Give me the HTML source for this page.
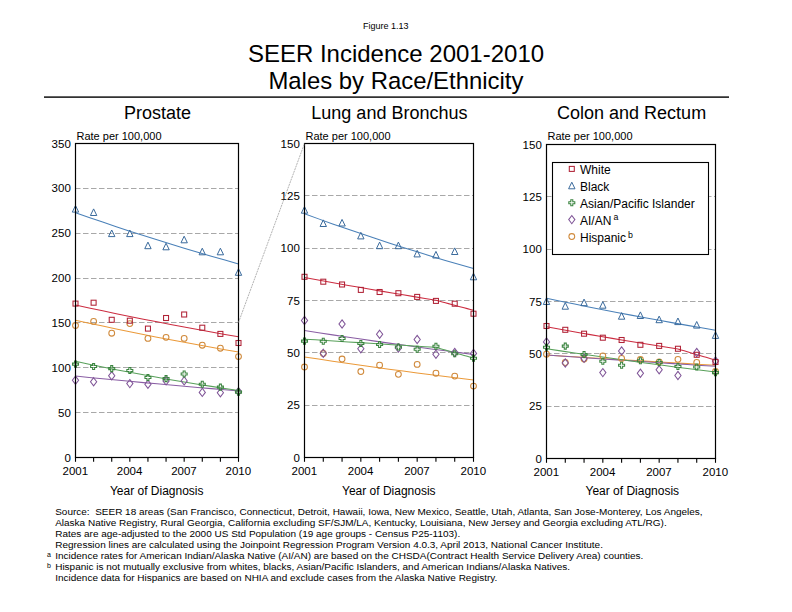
<!DOCTYPE html>
<html><head><meta charset="utf-8"><style>
html,body{margin:0;padding:0;background:#fff;width:792px;height:612px;overflow:hidden;position:relative;}
</style></head><body>
<svg width="792" height="612" viewBox="0 0 792 612" style="position:absolute;left:0;top:0">
<g font-family='"Liberation Sans", sans-serif' fill="#000">
<text x="385.75" y="29" font-size="9" text-anchor="middle">Figure 1.13</text>
<text x="396" y="62" font-size="24" text-anchor="middle">SEER Incidence 2001-2010</text>
<text x="395.9" y="89" font-size="23.9" text-anchor="middle">Males by Race/Ethnicity</text>
<rect x="44" y="96.4" width="685" height="1.4" fill="#000"/>
<text x="157.5" y="118.8" font-size="18" text-anchor="middle">Prostate</text>
<text x="76.5" y="139.8" font-size="11">Rate per 100,000</text>
<text x="70.8" y="461.60" font-size="11.5" text-anchor="end">0</text>
<line x1="75" y1="412.50" x2="238" y2="412.50" stroke="#a8a8a8" stroke-width="1" stroke-dasharray="5.5 2.5"/>
<text x="70.8" y="416.74" font-size="11.5" text-anchor="end">50</text>
<line x1="75" y1="367.50" x2="238" y2="367.50" stroke="#a8a8a8" stroke-width="1" stroke-dasharray="5.5 2.5"/>
<text x="70.8" y="371.89" font-size="11.5" text-anchor="end">100</text>
<line x1="75" y1="322.50" x2="238" y2="322.50" stroke="#a8a8a8" stroke-width="1" stroke-dasharray="5.5 2.5"/>
<text x="70.8" y="327.03" font-size="11.5" text-anchor="end">150</text>
<line x1="75" y1="278.50" x2="238" y2="278.50" stroke="#a8a8a8" stroke-width="1" stroke-dasharray="5.5 2.5"/>
<text x="70.8" y="282.17" font-size="11.5" text-anchor="end">200</text>
<line x1="75" y1="233.50" x2="238" y2="233.50" stroke="#a8a8a8" stroke-width="1" stroke-dasharray="5.5 2.5"/>
<text x="70.8" y="237.31" font-size="11.5" text-anchor="end">250</text>
<line x1="75" y1="188.50" x2="238" y2="188.50" stroke="#a8a8a8" stroke-width="1" stroke-dasharray="5.5 2.5"/>
<text x="70.8" y="192.46" font-size="11.5" text-anchor="end">300</text>
<text x="70.8" y="147.60" font-size="11.5" text-anchor="end">350</text>
<line x1="75.50" y1="457" x2="75.50" y2="461.8" stroke="#000" stroke-width="1.1"/>
<line x1="93.61" y1="457" x2="93.61" y2="461.8" stroke="#000" stroke-width="1.1"/>
<line x1="111.72" y1="457" x2="111.72" y2="461.8" stroke="#000" stroke-width="1.1"/>
<line x1="129.83" y1="457" x2="129.83" y2="461.8" stroke="#000" stroke-width="1.1"/>
<line x1="147.94" y1="457" x2="147.94" y2="461.8" stroke="#000" stroke-width="1.1"/>
<line x1="166.06" y1="457" x2="166.06" y2="461.8" stroke="#000" stroke-width="1.1"/>
<line x1="184.17" y1="457" x2="184.17" y2="461.8" stroke="#000" stroke-width="1.1"/>
<line x1="202.28" y1="457" x2="202.28" y2="461.8" stroke="#000" stroke-width="1.1"/>
<line x1="220.39" y1="457" x2="220.39" y2="461.8" stroke="#000" stroke-width="1.1"/>
<line x1="238.50" y1="457" x2="238.50" y2="461.8" stroke="#000" stroke-width="1.1"/>
<text x="75.30" y="475" font-size="11.5" text-anchor="middle">2001</text>
<text x="129.63" y="475" font-size="11.5" text-anchor="middle">2004</text>
<text x="183.97" y="475" font-size="11.5" text-anchor="middle">2007</text>
<text x="238.30" y="475" font-size="11.5" text-anchor="middle">2010</text>
<text x="156.70" y="495.2" font-size="12" text-anchor="middle">Year of Diagnosis</text>
<path d="M75.50,320.19 L89.08,323.17 L102.67,326.10 L116.25,328.96 L129.83,331.75 L143.42,334.49 L157.00,337.16 L170.58,339.78 L184.17,342.34 L197.75,344.85 L211.33,347.29 L224.92,349.69 L238.50,352.03" fill="none" stroke="#eb9a3a" stroke-width="1.05"/>
<path d="M75.50,376.08 L89.08,377.43 L102.67,378.76 L116.25,380.06 L129.83,381.35 L143.42,382.61 L157.00,383.85 L170.58,385.07 L184.17,386.27 L197.75,387.46 L211.33,388.62 L224.92,389.76 L238.50,390.88" fill="none" stroke="#8a5ea4" stroke-width="1.05"/>
<path d="M75.50,361.36 L89.08,364.22 L102.67,366.99 L116.25,369.68 L129.83,372.28 L143.42,374.81 L157.00,377.26 L170.58,379.65 L184.17,381.95 L197.75,384.19 L211.33,386.37 L224.92,388.48 L238.50,390.52" fill="none" stroke="#58a05a" stroke-width="1.05"/>
<path d="M75.50,212.71 L89.08,217.45 L102.67,222.10 L116.25,226.67 L129.83,231.14 L143.42,235.53 L157.00,239.83 L170.58,244.04 L184.17,248.18 L197.75,252.24 L211.33,256.21 L224.92,260.11 L238.50,263.93" fill="none" stroke="#4a80b8" stroke-width="1.05"/>
<path d="M75.50,305.02 L89.08,307.96 L102.67,310.85 L116.25,313.67 L129.83,316.45 L143.42,319.17 L157.00,321.83 L170.58,324.45 L184.17,327.01 L197.75,329.53 L211.33,331.99 L224.92,334.41 L238.50,336.78" fill="none" stroke="#cc2c40" stroke-width="1.05"/>
<circle cx="75.50" cy="325.50" r="2.9" fill="none" stroke="#d08a3c" stroke-width="1.05"/>
<circle cx="93.61" cy="321.40" r="2.9" fill="none" stroke="#d08a3c" stroke-width="1.05"/>
<circle cx="111.72" cy="333.20" r="2.9" fill="none" stroke="#d08a3c" stroke-width="1.05"/>
<circle cx="129.83" cy="323.60" r="2.9" fill="none" stroke="#d08a3c" stroke-width="1.05"/>
<circle cx="147.94" cy="338.40" r="2.9" fill="none" stroke="#d08a3c" stroke-width="1.05"/>
<circle cx="166.06" cy="337.30" r="2.9" fill="none" stroke="#d08a3c" stroke-width="1.05"/>
<circle cx="184.17" cy="338.40" r="2.9" fill="none" stroke="#d08a3c" stroke-width="1.05"/>
<circle cx="202.28" cy="345.20" r="2.9" fill="none" stroke="#d08a3c" stroke-width="1.05"/>
<circle cx="220.39" cy="348.20" r="2.9" fill="none" stroke="#d08a3c" stroke-width="1.05"/>
<circle cx="238.50" cy="356.60" r="2.9" fill="none" stroke="#d08a3c" stroke-width="1.05"/>
<path d="M75.50,376.10 L78.60,380.20 L75.50,384.30 L72.40,380.20 Z" fill="none" stroke="#7f5497" stroke-width="1.05"/>
<path d="M93.61,377.70 L96.71,381.80 L93.61,385.90 L90.51,381.80 Z" fill="none" stroke="#7f5497" stroke-width="1.05"/>
<path d="M111.72,371.60 L114.82,375.70 L111.72,379.80 L108.62,375.70 Z" fill="none" stroke="#7f5497" stroke-width="1.05"/>
<path d="M129.83,379.50 L132.93,383.60 L129.83,387.70 L126.73,383.60 Z" fill="none" stroke="#7f5497" stroke-width="1.05"/>
<path d="M147.94,380.10 L151.04,384.20 L147.94,388.30 L144.84,384.20 Z" fill="none" stroke="#7f5497" stroke-width="1.05"/>
<path d="M166.06,376.80 L169.16,380.90 L166.06,385.00 L162.96,380.90 Z" fill="none" stroke="#7f5497" stroke-width="1.05"/>
<path d="M184.17,376.80 L187.27,380.90 L184.17,385.00 L181.07,380.90 Z" fill="none" stroke="#7f5497" stroke-width="1.05"/>
<path d="M202.28,388.30 L205.38,392.40 L202.28,396.50 L199.18,392.40 Z" fill="none" stroke="#7f5497" stroke-width="1.05"/>
<path d="M220.39,388.70 L223.49,392.80 L220.39,396.90 L217.29,392.80 Z" fill="none" stroke="#7f5497" stroke-width="1.05"/>
<path d="M238.50,387.50 L241.60,391.60 L238.50,395.70 L235.40,391.60 Z" fill="none" stroke="#7f5497" stroke-width="1.05"/>
<path d="M74.50,361.10 L76.50,361.10 L76.50,363.10 L78.50,363.10 L78.50,365.10 L76.50,365.10 L76.50,367.10 L74.50,367.10 L74.50,365.10 L72.50,365.10 L72.50,363.10 L74.50,363.10 Z" fill="none" stroke="#3a843f" stroke-width="1.05"/>
<path d="M92.61,363.40 L94.61,363.40 L94.61,365.40 L96.61,365.40 L96.61,367.40 L94.61,367.40 L94.61,369.40 L92.61,369.40 L92.61,367.40 L90.61,367.40 L90.61,365.40 L92.61,365.40 Z" fill="none" stroke="#3a843f" stroke-width="1.05"/>
<path d="M110.72,365.60 L112.72,365.60 L112.72,367.60 L114.72,367.60 L114.72,369.60 L112.72,369.60 L112.72,371.60 L110.72,371.60 L110.72,369.60 L108.72,369.60 L108.72,367.60 L110.72,367.60 Z" fill="none" stroke="#3a843f" stroke-width="1.05"/>
<path d="M128.83,367.50 L130.83,367.50 L130.83,369.50 L132.83,369.50 L132.83,371.50 L130.83,371.50 L130.83,373.50 L128.83,373.50 L128.83,371.50 L126.83,371.50 L126.83,369.50 L128.83,369.50 Z" fill="none" stroke="#3a843f" stroke-width="1.05"/>
<path d="M146.94,374.50 L148.94,374.50 L148.94,376.50 L150.94,376.50 L150.94,378.50 L148.94,378.50 L148.94,380.50 L146.94,380.50 L146.94,378.50 L144.94,378.50 L144.94,376.50 L146.94,376.50 Z" fill="none" stroke="#3a843f" stroke-width="1.05"/>
<path d="M165.06,375.60 L167.06,375.60 L167.06,377.60 L169.06,377.60 L169.06,379.60 L167.06,379.60 L167.06,381.60 L165.06,381.60 L165.06,379.60 L163.06,379.60 L163.06,377.60 L165.06,377.60 Z" fill="none" stroke="#3a843f" stroke-width="1.05"/>
<path d="M183.17,371.00 L185.17,371.00 L185.17,373.00 L187.17,373.00 L187.17,375.00 L185.17,375.00 L185.17,377.00 L183.17,377.00 L183.17,375.00 L181.17,375.00 L181.17,373.00 L183.17,373.00 Z" fill="none" stroke="#3a843f" stroke-width="1.05"/>
<path d="M201.28,381.20 L203.28,381.20 L203.28,383.20 L205.28,383.20 L205.28,385.20 L203.28,385.20 L203.28,387.20 L201.28,387.20 L201.28,385.20 L199.28,385.20 L199.28,383.20 L201.28,383.20 Z" fill="none" stroke="#3a843f" stroke-width="1.05"/>
<path d="M219.39,384.10 L221.39,384.10 L221.39,386.10 L223.39,386.10 L223.39,388.10 L221.39,388.10 L221.39,390.10 L219.39,390.10 L219.39,388.10 L217.39,388.10 L217.39,386.10 L219.39,386.10 Z" fill="none" stroke="#3a843f" stroke-width="1.05"/>
<path d="M237.50,389.10 L239.50,389.10 L239.50,391.10 L241.50,391.10 L241.50,393.10 L239.50,393.10 L239.50,395.10 L237.50,395.10 L237.50,393.10 L235.50,393.10 L235.50,391.10 L237.50,391.10 Z" fill="none" stroke="#3a843f" stroke-width="1.05"/>
<path d="M75.50,205.50 L78.70,212.10 L72.30,212.10 Z" fill="none" stroke="#3a6a9c" stroke-width="1.0" stroke-linejoin="miter"/>
<path d="M93.61,208.90 L96.81,215.50 L90.41,215.50 Z" fill="none" stroke="#3a6a9c" stroke-width="1.0" stroke-linejoin="miter"/>
<path d="M111.72,230.00 L114.92,236.60 L108.52,236.60 Z" fill="none" stroke="#3a6a9c" stroke-width="1.0" stroke-linejoin="miter"/>
<path d="M129.83,230.00 L133.03,236.60 L126.63,236.60 Z" fill="none" stroke="#3a6a9c" stroke-width="1.0" stroke-linejoin="miter"/>
<path d="M147.94,242.10 L151.14,248.70 L144.74,248.70 Z" fill="none" stroke="#3a6a9c" stroke-width="1.0" stroke-linejoin="miter"/>
<path d="M166.06,243.20 L169.26,249.80 L162.86,249.80 Z" fill="none" stroke="#3a6a9c" stroke-width="1.0" stroke-linejoin="miter"/>
<path d="M184.17,236.20 L187.37,242.80 L180.97,242.80 Z" fill="none" stroke="#3a6a9c" stroke-width="1.0" stroke-linejoin="miter"/>
<path d="M202.28,248.20 L205.48,254.80 L199.08,254.80 Z" fill="none" stroke="#3a6a9c" stroke-width="1.0" stroke-linejoin="miter"/>
<path d="M220.39,248.20 L223.59,254.80 L217.19,254.80 Z" fill="none" stroke="#3a6a9c" stroke-width="1.0" stroke-linejoin="miter"/>
<path d="M238.50,268.70 L241.70,275.30 L235.30,275.30 Z" fill="none" stroke="#3a6a9c" stroke-width="1.0" stroke-linejoin="miter"/>
<rect x="73.00" y="301.10" width="5" height="5" fill="none" stroke="#b02236" stroke-width="1.05"/>
<rect x="91.11" y="300.20" width="5" height="5" fill="none" stroke="#b02236" stroke-width="1.05"/>
<rect x="109.22" y="317.30" width="5" height="5" fill="none" stroke="#b02236" stroke-width="1.05"/>
<rect x="127.33" y="318.20" width="5" height="5" fill="none" stroke="#b02236" stroke-width="1.05"/>
<rect x="145.44" y="326.10" width="5" height="5" fill="none" stroke="#b02236" stroke-width="1.05"/>
<rect x="163.56" y="315.50" width="5" height="5" fill="none" stroke="#b02236" stroke-width="1.05"/>
<rect x="181.67" y="312.00" width="5" height="5" fill="none" stroke="#b02236" stroke-width="1.05"/>
<rect x="199.78" y="325.20" width="5" height="5" fill="none" stroke="#b02236" stroke-width="1.05"/>
<rect x="217.89" y="331.40" width="5" height="5" fill="none" stroke="#b02236" stroke-width="1.05"/>
<rect x="236.00" y="340.50" width="5" height="5" fill="none" stroke="#b02236" stroke-width="1.05"/>
<rect x="75.5" y="143.5" width="163" height="314" fill="none" stroke="#000" stroke-width="1.2"/>
<text x="389.4" y="118.8" font-size="18" text-anchor="middle">Lung and Bronchus</text>
<text x="305.5" y="139.8" font-size="11">Rate per 100,000</text>
<text x="299.8" y="461.60" font-size="11.5" text-anchor="end">0</text>
<line x1="304" y1="405.50" x2="473" y2="405.50" stroke="#a8a8a8" stroke-width="1" stroke-dasharray="5.5 2.5"/>
<text x="299.8" y="409.27" font-size="11.5" text-anchor="end">25</text>
<line x1="304" y1="352.50" x2="473" y2="352.50" stroke="#a8a8a8" stroke-width="1" stroke-dasharray="5.5 2.5"/>
<text x="299.8" y="356.93" font-size="11.5" text-anchor="end">50</text>
<line x1="304" y1="300.50" x2="473" y2="300.50" stroke="#a8a8a8" stroke-width="1" stroke-dasharray="5.5 2.5"/>
<text x="299.8" y="304.60" font-size="11.5" text-anchor="end">75</text>
<line x1="304" y1="248.50" x2="473" y2="248.50" stroke="#a8a8a8" stroke-width="1" stroke-dasharray="5.5 2.5"/>
<text x="299.8" y="252.27" font-size="11.5" text-anchor="end">100</text>
<line x1="304" y1="195.50" x2="473" y2="195.50" stroke="#a8a8a8" stroke-width="1" stroke-dasharray="5.5 2.5"/>
<text x="299.8" y="199.93" font-size="11.5" text-anchor="end">125</text>
<text x="299.8" y="147.60" font-size="11.5" text-anchor="end">150</text>
<line x1="304.50" y1="457" x2="304.50" y2="461.8" stroke="#000" stroke-width="1.1"/>
<line x1="323.28" y1="457" x2="323.28" y2="461.8" stroke="#000" stroke-width="1.1"/>
<line x1="342.06" y1="457" x2="342.06" y2="461.8" stroke="#000" stroke-width="1.1"/>
<line x1="360.83" y1="457" x2="360.83" y2="461.8" stroke="#000" stroke-width="1.1"/>
<line x1="379.61" y1="457" x2="379.61" y2="461.8" stroke="#000" stroke-width="1.1"/>
<line x1="398.39" y1="457" x2="398.39" y2="461.8" stroke="#000" stroke-width="1.1"/>
<line x1="417.17" y1="457" x2="417.17" y2="461.8" stroke="#000" stroke-width="1.1"/>
<line x1="435.94" y1="457" x2="435.94" y2="461.8" stroke="#000" stroke-width="1.1"/>
<line x1="454.72" y1="457" x2="454.72" y2="461.8" stroke="#000" stroke-width="1.1"/>
<line x1="473.50" y1="457" x2="473.50" y2="461.8" stroke="#000" stroke-width="1.1"/>
<text x="304.30" y="475" font-size="11.5" text-anchor="middle">2001</text>
<text x="360.63" y="475" font-size="11.5" text-anchor="middle">2004</text>
<text x="416.97" y="475" font-size="11.5" text-anchor="middle">2007</text>
<text x="473.30" y="475" font-size="11.5" text-anchor="middle">2010</text>
<text x="388.80" y="495.3" font-size="12" text-anchor="middle">Year of Diagnosis</text>
<path d="M304.50,356.94 L318.58,359.10 L332.67,361.21 L346.75,363.27 L360.83,365.29 L374.92,367.27 L389.00,369.20 L403.08,371.10 L417.17,372.95 L431.25,374.76 L445.33,376.53 L459.42,378.27 L473.50,379.97" fill="none" stroke="#eb9a3a" stroke-width="1.05"/>
<path d="M304.50,330.56 L318.58,332.75 L332.67,334.89 L346.75,337.00 L360.83,339.08 L374.92,341.12 L389.00,343.12 L403.08,345.09 L417.17,347.02 L431.25,348.92 L445.33,350.79 L459.42,352.62 L473.50,354.43" fill="none" stroke="#8a5ea4" stroke-width="1.05"/>
<path d="M304.50,339.15 L315.45,339.85 L326.41,340.55 L337.36,341.24 L348.31,341.93 L359.27,342.62 L370.22,343.30 L381.18,343.98 L392.13,344.65 L403.08,345.32 L414.04,345.99 L424.99,346.65 L435.94,347.31 L435.94,347.31 L439.07,348.24 L442.20,349.17 L445.33,350.08 L448.46,350.99 L451.59,351.89 L454.72,352.78 L457.85,353.67 L460.98,354.55 L464.11,355.42 L467.24,356.28 L470.37,357.14 L473.50,357.99" fill="none" stroke="#58a05a" stroke-width="1.05"/>
<path d="M304.50,213.75 L318.58,218.88 L332.67,223.90 L346.75,228.81 L360.83,233.61 L374.92,238.32 L389.00,242.93 L403.08,247.44 L417.17,251.85 L431.25,256.17 L445.33,260.40 L459.42,264.55 L473.50,268.60" fill="none" stroke="#4a80b8" stroke-width="1.05"/>
<path d="M304.50,277.50 L315.45,279.51 L326.41,281.50 L337.36,283.47 L348.31,285.41 L359.27,287.33 L370.22,289.24 L381.18,291.12 L392.13,292.98 L403.08,294.82 L414.04,296.63 L424.99,298.43 L435.94,300.21 L435.94,300.21 L439.07,301.07 L442.20,301.93 L445.33,302.78 L448.46,303.63 L451.59,304.48 L454.72,305.32 L457.85,306.15 L460.98,306.98 L464.11,307.81 L467.24,308.63 L470.37,309.45 L473.50,310.26" fill="none" stroke="#cc2c40" stroke-width="1.05"/>
<circle cx="304.50" cy="367.00" r="2.9" fill="none" stroke="#d08a3c" stroke-width="1.05"/>
<circle cx="323.28" cy="353.50" r="2.9" fill="none" stroke="#d08a3c" stroke-width="1.05"/>
<circle cx="342.06" cy="359.00" r="2.9" fill="none" stroke="#d08a3c" stroke-width="1.05"/>
<circle cx="360.83" cy="371.50" r="2.9" fill="none" stroke="#d08a3c" stroke-width="1.05"/>
<circle cx="379.61" cy="365.20" r="2.9" fill="none" stroke="#d08a3c" stroke-width="1.05"/>
<circle cx="398.39" cy="374.30" r="2.9" fill="none" stroke="#d08a3c" stroke-width="1.05"/>
<circle cx="417.17" cy="364.40" r="2.9" fill="none" stroke="#d08a3c" stroke-width="1.05"/>
<circle cx="435.94" cy="373.20" r="2.9" fill="none" stroke="#d08a3c" stroke-width="1.05"/>
<circle cx="454.72" cy="376.10" r="2.9" fill="none" stroke="#d08a3c" stroke-width="1.05"/>
<circle cx="473.50" cy="386.10" r="2.9" fill="none" stroke="#d08a3c" stroke-width="1.05"/>
<path d="M304.50,316.40 L307.60,320.50 L304.50,324.60 L301.40,320.50 Z" fill="none" stroke="#7f5497" stroke-width="1.05"/>
<path d="M323.28,349.20 L326.38,353.30 L323.28,357.40 L320.18,353.30 Z" fill="none" stroke="#7f5497" stroke-width="1.05"/>
<path d="M342.06,319.90 L345.16,324.00 L342.06,328.10 L338.96,324.00 Z" fill="none" stroke="#7f5497" stroke-width="1.05"/>
<path d="M360.83,344.65 L363.93,348.75 L360.83,352.85 L357.73,348.75 Z" fill="none" stroke="#7f5497" stroke-width="1.05"/>
<path d="M379.61,330.20 L382.71,334.30 L379.61,338.40 L376.51,334.30 Z" fill="none" stroke="#7f5497" stroke-width="1.05"/>
<path d="M398.39,343.90 L401.49,348.00 L398.39,352.10 L395.29,348.00 Z" fill="none" stroke="#7f5497" stroke-width="1.05"/>
<path d="M417.17,335.40 L420.27,339.50 L417.17,343.60 L414.07,339.50 Z" fill="none" stroke="#7f5497" stroke-width="1.05"/>
<path d="M435.94,350.20 L439.04,354.30 L435.94,358.40 L432.84,354.30 Z" fill="none" stroke="#7f5497" stroke-width="1.05"/>
<path d="M454.72,348.40 L457.82,352.50 L454.72,356.60 L451.62,352.50 Z" fill="none" stroke="#7f5497" stroke-width="1.05"/>
<path d="M473.50,349.30 L476.60,353.40 L473.50,357.50 L470.40,353.40 Z" fill="none" stroke="#7f5497" stroke-width="1.05"/>
<path d="M303.50,338.10 L305.50,338.10 L305.50,340.10 L307.50,340.10 L307.50,342.10 L305.50,342.10 L305.50,344.10 L303.50,344.10 L303.50,342.10 L301.50,342.10 L301.50,340.10 L303.50,340.10 Z" fill="none" stroke="#3a843f" stroke-width="1.05"/>
<path d="M322.28,338.30 L324.28,338.30 L324.28,340.30 L326.28,340.30 L326.28,342.30 L324.28,342.30 L324.28,344.30 L322.28,344.30 L322.28,342.30 L320.28,342.30 L320.28,340.30 L322.28,340.30 Z" fill="none" stroke="#3a843f" stroke-width="1.05"/>
<path d="M341.06,335.50 L343.06,335.50 L343.06,337.50 L345.06,337.50 L345.06,339.50 L343.06,339.50 L343.06,341.50 L341.06,341.50 L341.06,339.50 L339.06,339.50 L339.06,337.50 L341.06,337.50 Z" fill="none" stroke="#3a843f" stroke-width="1.05"/>
<path d="M359.83,340.40 L361.83,340.40 L361.83,342.40 L363.83,342.40 L363.83,344.40 L361.83,344.40 L361.83,346.40 L359.83,346.40 L359.83,344.40 L357.83,344.40 L357.83,342.40 L359.83,342.40 Z" fill="none" stroke="#3a843f" stroke-width="1.05"/>
<path d="M378.61,341.40 L380.61,341.40 L380.61,343.40 L382.61,343.40 L382.61,345.40 L380.61,345.40 L380.61,347.40 L378.61,347.40 L378.61,345.40 L376.61,345.40 L376.61,343.40 L378.61,343.40 Z" fill="none" stroke="#3a843f" stroke-width="1.05"/>
<path d="M397.39,343.90 L399.39,343.90 L399.39,345.90 L401.39,345.90 L401.39,347.90 L399.39,347.90 L399.39,349.90 L397.39,349.90 L397.39,347.90 L395.39,347.90 L395.39,345.90 L397.39,345.90 Z" fill="none" stroke="#3a843f" stroke-width="1.05"/>
<path d="M416.17,346.20 L418.17,346.20 L418.17,348.20 L420.17,348.20 L420.17,350.20 L418.17,350.20 L418.17,352.20 L416.17,352.20 L416.17,350.20 L414.17,350.20 L414.17,348.20 L416.17,348.20 Z" fill="none" stroke="#3a843f" stroke-width="1.05"/>
<path d="M434.94,343.30 L436.94,343.30 L436.94,345.30 L438.94,345.30 L438.94,347.30 L436.94,347.30 L436.94,349.30 L434.94,349.30 L434.94,347.30 L432.94,347.30 L432.94,345.30 L434.94,345.30 Z" fill="none" stroke="#3a843f" stroke-width="1.05"/>
<path d="M453.72,350.80 L455.72,350.80 L455.72,352.80 L457.72,352.80 L457.72,354.80 L455.72,354.80 L455.72,356.80 L453.72,356.80 L453.72,354.80 L451.72,354.80 L451.72,352.80 L453.72,352.80 Z" fill="none" stroke="#3a843f" stroke-width="1.05"/>
<path d="M472.50,355.30 L474.50,355.30 L474.50,357.30 L476.50,357.30 L476.50,359.30 L474.50,359.30 L474.50,361.30 L472.50,361.30 L472.50,359.30 L470.50,359.30 L470.50,357.30 L472.50,357.30 Z" fill="none" stroke="#3a843f" stroke-width="1.05"/>
<path d="M304.50,206.60 L307.70,213.20 L301.30,213.20 Z" fill="none" stroke="#3a6a9c" stroke-width="1.0" stroke-linejoin="miter"/>
<path d="M323.28,219.90 L326.48,226.50 L320.08,226.50 Z" fill="none" stroke="#3a6a9c" stroke-width="1.0" stroke-linejoin="miter"/>
<path d="M342.06,219.40 L345.26,226.00 L338.86,226.00 Z" fill="none" stroke="#3a6a9c" stroke-width="1.0" stroke-linejoin="miter"/>
<path d="M360.83,232.30 L364.03,238.90 L357.63,238.90 Z" fill="none" stroke="#3a6a9c" stroke-width="1.0" stroke-linejoin="miter"/>
<path d="M379.61,242.10 L382.81,248.70 L376.41,248.70 Z" fill="none" stroke="#3a6a9c" stroke-width="1.0" stroke-linejoin="miter"/>
<path d="M398.39,242.10 L401.59,248.70 L395.19,248.70 Z" fill="none" stroke="#3a6a9c" stroke-width="1.0" stroke-linejoin="miter"/>
<path d="M417.17,250.30 L420.37,256.90 L413.97,256.90 Z" fill="none" stroke="#3a6a9c" stroke-width="1.0" stroke-linejoin="miter"/>
<path d="M435.94,251.40 L439.14,258.00 L432.74,258.00 Z" fill="none" stroke="#3a6a9c" stroke-width="1.0" stroke-linejoin="miter"/>
<path d="M454.72,247.90 L457.92,254.50 L451.52,254.50 Z" fill="none" stroke="#3a6a9c" stroke-width="1.0" stroke-linejoin="miter"/>
<path d="M473.50,273.20 L476.70,279.80 L470.30,279.80 Z" fill="none" stroke="#3a6a9c" stroke-width="1.0" stroke-linejoin="miter"/>
<rect x="302.00" y="274.30" width="5" height="5" fill="none" stroke="#b02236" stroke-width="1.05"/>
<rect x="320.78" y="279.20" width="5" height="5" fill="none" stroke="#b02236" stroke-width="1.05"/>
<rect x="339.56" y="282.00" width="5" height="5" fill="none" stroke="#b02236" stroke-width="1.05"/>
<rect x="358.33" y="287.40" width="5" height="5" fill="none" stroke="#b02236" stroke-width="1.05"/>
<rect x="377.11" y="289.50" width="5" height="5" fill="none" stroke="#b02236" stroke-width="1.05"/>
<rect x="395.89" y="290.70" width="5" height="5" fill="none" stroke="#b02236" stroke-width="1.05"/>
<rect x="414.67" y="294.40" width="5" height="5" fill="none" stroke="#b02236" stroke-width="1.05"/>
<rect x="433.44" y="298.40" width="5" height="5" fill="none" stroke="#b02236" stroke-width="1.05"/>
<rect x="452.22" y="301.20" width="5" height="5" fill="none" stroke="#b02236" stroke-width="1.05"/>
<rect x="471.00" y="311.20" width="5" height="5" fill="none" stroke="#b02236" stroke-width="1.05"/>
<rect x="304.5" y="143.5" width="169" height="314" fill="none" stroke="#000" stroke-width="1.2"/>
<text x="631.6" y="118.8" font-size="18" text-anchor="middle">Colon and Rectum</text>
<text x="547.5" y="139.8" font-size="11">Rate per 100,000</text>
<text x="541.8" y="462.60" font-size="11.5" text-anchor="end">0</text>
<line x1="546" y1="406.50" x2="715" y2="406.50" stroke="#a8a8a8" stroke-width="1" stroke-dasharray="5.5 2.5"/>
<text x="541.8" y="410.27" font-size="11.5" text-anchor="end">25</text>
<line x1="546" y1="353.50" x2="715" y2="353.50" stroke="#a8a8a8" stroke-width="1" stroke-dasharray="5.5 2.5"/>
<text x="541.8" y="357.93" font-size="11.5" text-anchor="end">50</text>
<line x1="546" y1="301.50" x2="715" y2="301.50" stroke="#a8a8a8" stroke-width="1" stroke-dasharray="5.5 2.5"/>
<text x="541.8" y="305.60" font-size="11.5" text-anchor="end">75</text>
<line x1="546" y1="249.50" x2="715" y2="249.50" stroke="#a8a8a8" stroke-width="1" stroke-dasharray="5.5 2.5"/>
<text x="541.8" y="253.27" font-size="11.5" text-anchor="end">100</text>
<line x1="546" y1="196.50" x2="715" y2="196.50" stroke="#a8a8a8" stroke-width="1" stroke-dasharray="5.5 2.5"/>
<text x="541.8" y="200.93" font-size="11.5" text-anchor="end">125</text>
<text x="541.8" y="148.60" font-size="11.5" text-anchor="end">150</text>
<line x1="546.50" y1="458" x2="546.50" y2="462.8" stroke="#000" stroke-width="1.1"/>
<line x1="565.28" y1="458" x2="565.28" y2="462.8" stroke="#000" stroke-width="1.1"/>
<line x1="584.06" y1="458" x2="584.06" y2="462.8" stroke="#000" stroke-width="1.1"/>
<line x1="602.83" y1="458" x2="602.83" y2="462.8" stroke="#000" stroke-width="1.1"/>
<line x1="621.61" y1="458" x2="621.61" y2="462.8" stroke="#000" stroke-width="1.1"/>
<line x1="640.39" y1="458" x2="640.39" y2="462.8" stroke="#000" stroke-width="1.1"/>
<line x1="659.17" y1="458" x2="659.17" y2="462.8" stroke="#000" stroke-width="1.1"/>
<line x1="677.94" y1="458" x2="677.94" y2="462.8" stroke="#000" stroke-width="1.1"/>
<line x1="696.72" y1="458" x2="696.72" y2="462.8" stroke="#000" stroke-width="1.1"/>
<line x1="715.50" y1="458" x2="715.50" y2="462.8" stroke="#000" stroke-width="1.1"/>
<text x="546.30" y="476" font-size="11.5" text-anchor="middle">2001</text>
<text x="602.63" y="476" font-size="11.5" text-anchor="middle">2004</text>
<text x="658.97" y="476" font-size="11.5" text-anchor="middle">2007</text>
<text x="715.30" y="476" font-size="11.5" text-anchor="middle">2010</text>
<text x="632.30" y="495.3" font-size="12" text-anchor="middle">Year of Diagnosis</text>
<path d="M546.50,355.01 L560.58,355.90 L574.67,356.79 L588.75,357.67 L602.83,358.55 L616.92,359.41 L631.00,360.27 L645.08,361.12 L659.17,361.97 L673.25,362.80 L687.33,363.63 L701.42,364.45 L715.50,365.27" fill="none" stroke="#eb9a3a" stroke-width="1.05"/>
<path d="M546.50,355.01 L560.58,356.00 L574.67,356.98 L588.75,357.96 L602.83,358.92 L616.92,359.88 L631.00,360.82 L645.08,361.76 L659.17,362.69 L673.25,363.61 L687.33,364.52 L701.42,365.42 L715.50,366.31" fill="none" stroke="#8a5ea4" stroke-width="1.05"/>
<path d="M546.50,348.73 L560.58,350.88 L574.67,353.00 L588.75,355.07 L602.83,357.10 L616.92,359.09 L631.00,361.04 L645.08,362.95 L659.17,364.83 L673.25,366.66 L687.33,368.47 L701.42,370.23 L715.50,371.96" fill="none" stroke="#58a05a" stroke-width="1.05"/>
<path d="M546.50,298.28 L560.58,301.22 L574.67,304.11 L588.75,306.94 L602.83,309.72 L616.92,312.45 L631.00,315.13 L645.08,317.76 L659.17,320.34 L673.25,322.88 L687.33,325.36 L701.42,327.81 L715.50,330.20" fill="none" stroke="#4a80b8" stroke-width="1.05"/>
<path d="M546.50,326.75 L557.45,328.76 L568.41,330.74 L579.36,332.69 L590.31,334.61 L601.27,336.50 L612.22,338.36 L623.18,340.19 L634.13,341.99 L645.08,343.77 L656.04,345.52 L666.99,347.24 L677.94,348.94 L677.94,348.94 L681.07,349.91 L684.20,350.87 L687.33,351.82 L690.46,352.77 L693.59,353.71 L696.72,354.63 L699.85,355.55 L702.98,356.47 L706.11,357.37 L709.24,358.26 L712.37,359.15 L715.50,360.03" fill="none" stroke="#cc2c40" stroke-width="1.05"/>
<circle cx="546.50" cy="354.20" r="2.9" fill="none" stroke="#d08a3c" stroke-width="1.05"/>
<circle cx="565.28" cy="362.50" r="2.9" fill="none" stroke="#d08a3c" stroke-width="1.05"/>
<circle cx="584.06" cy="359.00" r="2.9" fill="none" stroke="#d08a3c" stroke-width="1.05"/>
<circle cx="602.83" cy="355.90" r="2.9" fill="none" stroke="#d08a3c" stroke-width="1.05"/>
<circle cx="621.61" cy="358.40" r="2.9" fill="none" stroke="#d08a3c" stroke-width="1.05"/>
<circle cx="640.39" cy="359.50" r="2.9" fill="none" stroke="#d08a3c" stroke-width="1.05"/>
<circle cx="659.17" cy="361.80" r="2.9" fill="none" stroke="#d08a3c" stroke-width="1.05"/>
<circle cx="677.94" cy="359.30" r="2.9" fill="none" stroke="#d08a3c" stroke-width="1.05"/>
<circle cx="696.72" cy="362.40" r="2.9" fill="none" stroke="#d08a3c" stroke-width="1.05"/>
<circle cx="715.50" cy="371.50" r="2.9" fill="none" stroke="#d08a3c" stroke-width="1.05"/>
<path d="M546.50,337.80 L549.60,341.90 L546.50,346.00 L543.40,341.90 Z" fill="none" stroke="#7f5497" stroke-width="1.05"/>
<path d="M565.28,358.90 L568.38,363.00 L565.28,367.10 L562.18,363.00 Z" fill="none" stroke="#7f5497" stroke-width="1.05"/>
<path d="M584.06,354.30 L587.16,358.40 L584.06,362.50 L580.96,358.40 Z" fill="none" stroke="#7f5497" stroke-width="1.05"/>
<path d="M602.83,368.50 L605.93,372.60 L602.83,376.70 L599.73,372.60 Z" fill="none" stroke="#7f5497" stroke-width="1.05"/>
<path d="M621.61,346.90 L624.71,351.00 L621.61,355.10 L618.51,351.00 Z" fill="none" stroke="#7f5497" stroke-width="1.05"/>
<path d="M640.39,369.10 L643.49,373.20 L640.39,377.30 L637.29,373.20 Z" fill="none" stroke="#7f5497" stroke-width="1.05"/>
<path d="M659.17,365.70 L662.27,369.80 L659.17,373.90 L656.07,369.80 Z" fill="none" stroke="#7f5497" stroke-width="1.05"/>
<path d="M677.94,371.40 L681.04,375.50 L677.94,379.60 L674.84,375.50 Z" fill="none" stroke="#7f5497" stroke-width="1.05"/>
<path d="M696.72,348.40 L699.82,352.50 L696.72,356.60 L693.62,352.50 Z" fill="none" stroke="#7f5497" stroke-width="1.05"/>
<path d="M715.50,356.90 L718.60,361.00 L715.50,365.10 L712.40,361.00 Z" fill="none" stroke="#7f5497" stroke-width="1.05"/>
<path d="M545.50,344.30 L547.50,344.30 L547.50,346.30 L549.50,346.30 L549.50,348.30 L547.50,348.30 L547.50,350.30 L545.50,350.30 L545.50,348.30 L543.50,348.30 L543.50,346.30 L545.50,346.30 Z" fill="none" stroke="#3a843f" stroke-width="1.05"/>
<path d="M564.28,343.10 L566.28,343.10 L566.28,345.10 L568.28,345.10 L568.28,347.10 L566.28,347.10 L566.28,349.10 L564.28,349.10 L564.28,347.10 L562.28,347.10 L562.28,345.10 L564.28,345.10 Z" fill="none" stroke="#3a843f" stroke-width="1.05"/>
<path d="M583.06,351.40 L585.06,351.40 L585.06,353.40 L587.06,353.40 L587.06,355.40 L585.06,355.40 L585.06,357.40 L583.06,357.40 L583.06,355.40 L581.06,355.40 L581.06,353.40 L583.06,353.40 Z" fill="none" stroke="#3a843f" stroke-width="1.05"/>
<path d="M601.83,358.25 L603.83,358.25 L603.83,360.25 L605.83,360.25 L605.83,362.25 L603.83,362.25 L603.83,364.25 L601.83,364.25 L601.83,362.25 L599.83,362.25 L599.83,360.25 L601.83,360.25 Z" fill="none" stroke="#3a843f" stroke-width="1.05"/>
<path d="M620.61,362.20 L622.61,362.20 L622.61,364.20 L624.61,364.20 L624.61,366.20 L622.61,366.20 L622.61,368.20 L620.61,368.20 L620.61,366.20 L618.61,366.20 L618.61,364.20 L620.61,364.20 Z" fill="none" stroke="#3a843f" stroke-width="1.05"/>
<path d="M639.39,357.70 L641.39,357.70 L641.39,359.70 L643.39,359.70 L643.39,361.70 L641.39,361.70 L641.39,363.70 L639.39,363.70 L639.39,361.70 L637.39,361.70 L637.39,359.70 L639.39,359.70 Z" fill="none" stroke="#3a843f" stroke-width="1.05"/>
<path d="M658.17,359.40 L660.17,359.40 L660.17,361.40 L662.17,361.40 L662.17,363.40 L660.17,363.40 L660.17,365.40 L658.17,365.40 L658.17,363.40 L656.17,363.40 L656.17,361.40 L658.17,361.40 Z" fill="none" stroke="#3a843f" stroke-width="1.05"/>
<path d="M676.94,363.40 L678.94,363.40 L678.94,365.40 L680.94,365.40 L680.94,367.40 L678.94,367.40 L678.94,369.40 L676.94,369.40 L676.94,367.40 L674.94,367.40 L674.94,365.40 L676.94,365.40 Z" fill="none" stroke="#3a843f" stroke-width="1.05"/>
<path d="M695.72,363.90 L697.72,363.90 L697.72,365.90 L699.72,365.90 L699.72,367.90 L697.72,367.90 L697.72,369.90 L695.72,369.90 L695.72,367.90 L693.72,367.90 L693.72,365.90 L695.72,365.90 Z" fill="none" stroke="#3a843f" stroke-width="1.05"/>
<path d="M714.50,369.60 L716.50,369.60 L716.50,371.60 L718.50,371.60 L718.50,373.60 L716.50,373.60 L716.50,375.60 L714.50,375.60 L714.50,373.60 L712.50,373.60 L712.50,371.60 L714.50,371.60 Z" fill="none" stroke="#3a843f" stroke-width="1.05"/>
<path d="M546.50,297.90 L549.70,304.50 L543.30,304.50 Z" fill="none" stroke="#3a6a9c" stroke-width="1.0" stroke-linejoin="miter"/>
<path d="M565.28,302.60 L568.48,309.20 L562.08,309.20 Z" fill="none" stroke="#3a6a9c" stroke-width="1.0" stroke-linejoin="miter"/>
<path d="M584.06,299.10 L587.26,305.70 L580.86,305.70 Z" fill="none" stroke="#3a6a9c" stroke-width="1.0" stroke-linejoin="miter"/>
<path d="M602.83,301.60 L606.03,308.20 L599.63,308.20 Z" fill="none" stroke="#3a6a9c" stroke-width="1.0" stroke-linejoin="miter"/>
<path d="M621.61,312.60 L624.81,319.20 L618.41,319.20 Z" fill="none" stroke="#3a6a9c" stroke-width="1.0" stroke-linejoin="miter"/>
<path d="M640.39,311.90 L643.59,318.50 L637.19,318.50 Z" fill="none" stroke="#3a6a9c" stroke-width="1.0" stroke-linejoin="miter"/>
<path d="M659.17,316.10 L662.37,322.70 L655.97,322.70 Z" fill="none" stroke="#3a6a9c" stroke-width="1.0" stroke-linejoin="miter"/>
<path d="M677.94,318.00 L681.14,324.60 L674.74,324.60 Z" fill="none" stroke="#3a6a9c" stroke-width="1.0" stroke-linejoin="miter"/>
<path d="M696.72,321.50 L699.92,328.10 L693.52,328.10 Z" fill="none" stroke="#3a6a9c" stroke-width="1.0" stroke-linejoin="miter"/>
<path d="M715.50,331.80 L718.70,338.40 L712.30,338.40 Z" fill="none" stroke="#3a6a9c" stroke-width="1.0" stroke-linejoin="miter"/>
<rect x="544.00" y="323.50" width="5" height="5" fill="none" stroke="#b02236" stroke-width="1.05"/>
<rect x="562.78" y="327.30" width="5" height="5" fill="none" stroke="#b02236" stroke-width="1.05"/>
<rect x="581.56" y="331.20" width="5" height="5" fill="none" stroke="#b02236" stroke-width="1.05"/>
<rect x="600.33" y="335.20" width="5" height="5" fill="none" stroke="#b02236" stroke-width="1.05"/>
<rect x="619.11" y="337.50" width="5" height="5" fill="none" stroke="#b02236" stroke-width="1.05"/>
<rect x="637.89" y="342.30" width="5" height="5" fill="none" stroke="#b02236" stroke-width="1.05"/>
<rect x="656.67" y="343.40" width="5" height="5" fill="none" stroke="#b02236" stroke-width="1.05"/>
<rect x="675.44" y="346.25" width="5" height="5" fill="none" stroke="#b02236" stroke-width="1.05"/>
<rect x="694.22" y="352.30" width="5" height="5" fill="none" stroke="#b02236" stroke-width="1.05"/>
<rect x="713.00" y="359.50" width="5" height="5" fill="none" stroke="#b02236" stroke-width="1.05"/>
<rect x="546.5" y="144.5" width="169" height="314" fill="none" stroke="#000" stroke-width="1.2"/>
<line x1="238.5" y1="322.43" x2="304.5" y2="143.5" stroke="#a0a0a0" stroke-width="0.8" stroke-dasharray="2 0.8"/>
<rect x="552.5" y="162.5" width="156" height="92" fill="#fff" stroke="#000" stroke-width="1.1"/>
<rect x="569.30" y="166.40" width="5" height="5" fill="none" stroke="#b02236" stroke-width="1.05"/>
<text x="580" y="173.90" font-size="12">White</text>
<path d="M571.80,182.20 L575.00,188.80 L568.60,188.80 Z" fill="none" stroke="#3a6a9c" stroke-width="1.0" stroke-linejoin="miter"/>
<text x="580" y="190.90" font-size="12">Black</text>
<path d="M570.80,199.70 L572.80,199.70 L572.80,201.70 L574.80,201.70 L574.80,203.70 L572.80,203.70 L572.80,205.70 L570.80,205.70 L570.80,203.70 L568.80,203.70 L568.80,201.70 L570.80,201.70 Z" fill="none" stroke="#3a843f" stroke-width="1.05"/>
<text x="580" y="207.90" font-size="12">Asian/Pacific Islander</text>
<path d="M571.80,215.50 L574.90,219.60 L571.80,223.70 L568.70,219.60 Z" fill="none" stroke="#7f5497" stroke-width="1.05"/>
<text x="580" y="224.90" font-size="12">AI/AN</text>
<circle cx="571.80" cy="236.50" r="2.9" fill="none" stroke="#d08a3c" stroke-width="1.05"/>
<text x="580" y="241.90" font-size="12">Hispanic</text>
<text x="613.6" y="219.7" font-size="8.8">a</text>
<text x="627.9" y="237.6" font-size="8.8">b</text>
<text transform="translate(0 515.20) scale(1 0.93)" x="55.2" y="0" font-size="10" xml:space="preserve">Source:  SEER 18 areas (San Francisco, Connecticut, Detroit, Hawaii, Iowa, New Mexico, Seattle, Utah, Atlanta, San Jose-Monterey, Los Angeles,</text>
<text transform="translate(0 526.17) scale(1 0.93)" x="55.2" y="0" font-size="10" xml:space="preserve">Alaska Native Registry, Rural Georgia, California excluding SF/SJM/LA, Kentucky, Louisiana, New Jersey and Georgia excluding ATL/RG).</text>
<text transform="translate(0 537.14) scale(1 0.93)" x="55.2" y="0" font-size="10" xml:space="preserve">Rates are age-adjusted to the 2000 US Std Population (19 age groups - Census P25-1103).</text>
<text transform="translate(0 548.11) scale(1 0.93)" x="55.2" y="0" font-size="10" xml:space="preserve">Regression lines are calculated using the Joinpoint Regression Program Version 4.0.3, April 2013, National Cancer Institute.</text>
<text transform="translate(0 559.08) scale(1 0.93)" x="55.2" y="0" font-size="10" xml:space="preserve">Incidence rates for American Indian/Alaska Native (AI/AN) are based on the CHSDA(Contract Health Service Delivery Area) counties.</text>
<text transform="translate(0 570.05) scale(1 0.93)" x="55.2" y="0" font-size="10" xml:space="preserve">Hispanic is not mutually exclusive from whites, blacks, Asian/Pacific Islanders, and American Indians/Alaska Natives.</text>
<text transform="translate(0 581.02) scale(1 0.93)" x="55.2" y="0" font-size="10" xml:space="preserve">Incidence data for Hispanics are based on NHIA and exclude cases from the Alaska Native Registry.</text>
<text x="47" y="556.6" font-size="7">a</text>
<text x="47" y="567.7" font-size="7">b</text>
</g></svg>
</body></html>
